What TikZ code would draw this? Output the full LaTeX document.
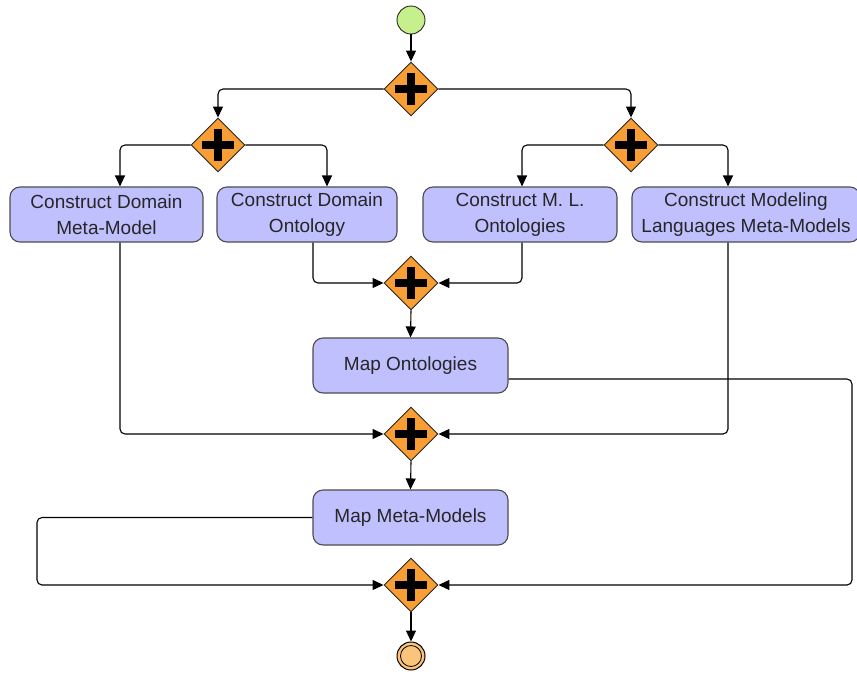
\documentclass[tikz,border=0pt]{standalone}
\usepackage{fontspec}
\setmainfont{Liberation Sans}
\usetikzlibrary{shapes.geometric,arrows.meta}
\definecolor{taskfill}{RGB}{192,192,255}
\definecolor{gatefill}{RGB}{248,158,52}
\definecolor{startfill}{RGB}{198,240,140}
\definecolor{endfill}{RGB}{250,196,122}
\begin{document}
\begin{tikzpicture}[x=1pt,y=-1pt,
  flow/.style={line width=1.1pt, draw=black, rounded corners=5pt,
    -{Triangle[length=11pt,width=10pt]}},
  task/.style={draw=black!70, line width=1.1pt, fill=taskfill,
    rounded corners=10pt, minimum height=55pt, align=center,
    inner sep=0pt, text=black!85,
    font=\fontsize{19}{26}\selectfont},
  gate/.style={diamond, draw=black!85, line width=0.9pt, fill=gatefill,
    minimum width=54pt, minimum height=54pt, inner sep=0pt, aspect=1},
  plusbar/.style={line width=8pt, draw=black}]
\useasboundingbox (0,0) rectangle (857,673);
\clip (0,0) rectangle (857,673);

% events
\node[circle, draw=black!85, line width=0.9pt, fill=startfill,
  minimum size=28pt, inner sep=0pt] (s) at (411,20) {};
\node[circle, draw=black, line width=1pt, fill=endfill,
  minimum size=28pt, inner sep=0pt] (e) at (411,656) {};
\draw[black, line width=0.8pt] (e.center) circle[radius=10.5pt];

% parallel gateways
\node[gate] (g1) at (411,89) {};
\node[gate] (g2) at (218,145) {};
\node[gate] (g3) at (631,145) {};
\node[gate] (g4) at (411,283) {};
\node[gate] (g5) at (411,434) {};
\node[gate] (g6) at (411,585) {};
\foreach \g in {g1,g2,g3,g4,g5,g6} {
  \draw[plusbar] ([xshift=-16pt]\g.center) -- ([xshift=16pt]\g.center);
  \draw[plusbar] ([yshift=-16pt]\g.center) -- ([yshift=16pt]\g.center);
}

% tasks
\node[task, minimum width=193pt] (t1) at (106.5,214.5) {Construct Domain\\Meta-Model};
\node[task, minimum width=180pt] (t2) at (307,214.5) {Construct Domain\\Ontology};
\node[task, minimum width=194pt] (t3) at (520,214.5) {Construct M. L.\\Ontologies};
\node[task, minimum width=228pt] (t4) at (746,214.5) {Construct Modeling\\Languages Meta-Models};
\node[task, minimum width=195pt] (mo) at (410.5,365.5) {Map Ontologies};
\node[task, minimum width=195pt] (mm) at (410.5,517.5) {Map Meta-Models};

% corners of the two long return paths
\coordinate (rc) at (852,585);
\coordinate (lc) at (37,585);

% sequence flows
\draw[flow] (s) -- (g1.north);
\draw[flow] (g1.west) -| (g2.north);
\draw[flow] (g1.east) -| (g3.north);
\draw[flow] (g2.west) -| ([xshift=13.5pt]t1.north);
\draw[flow] (g2.east) -| ([xshift=20pt]t2.north);
\draw[flow] (g3.west) -| ([xshift=2pt]t3.north);
\draw[flow] (g3.east) -| ([xshift=-18pt]t4.north);
\draw[flow] ([xshift=6pt]t2.south) |- (g4.west);
\draw[flow] ([xshift=2pt]t3.south) |- (g4.east);
\draw[flow] (g4.south) -- (mo.north);
\draw[flow] ([xshift=13.5pt]t1.south) |- (g5.west);
\draw[flow] ([xshift=-18pt]t4.south) |- (g5.east);
\draw[flow] (g5.south) -- (mm.north);
\draw[flow] ([yshift=-13.5pt]mo.east) -| (rc) -- (g6.east);
\draw[flow] (mm.west) -| (lc) -- (g6.west);
\draw[flow] (g6.south) -- (e.north);
\end{tikzpicture}
\end{document}
